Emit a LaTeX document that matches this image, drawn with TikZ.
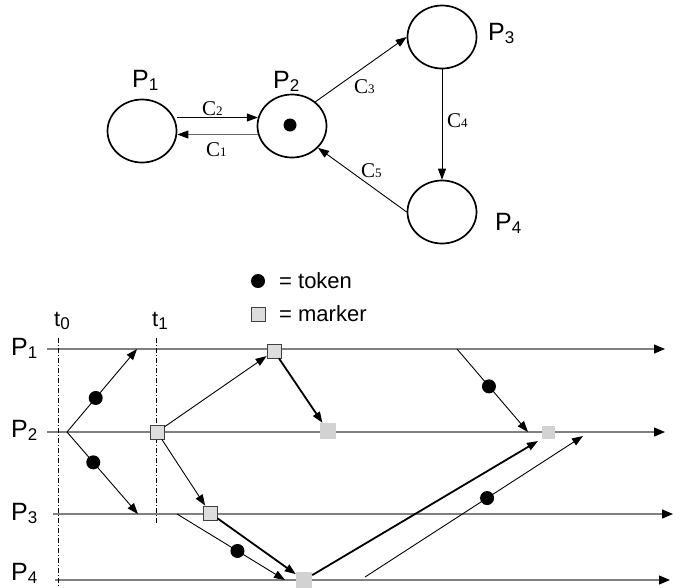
\documentclass[tikz,border=0pt]{standalone}
\usepackage{fontspec}
\setmainfont{Liberation Serif}
\setsansfont{Liberation Sans}
\usetikzlibrary{arrows.meta}
\usetikzlibrary{shapes.geometric}
\definecolor{zeitlinie}{RGB}{128,128,128}
\definecolor{markfill}{RGB}{221,221,221}
\definecolor{markgrey}{RGB}{210,210,210}
\newcommand{\psub}[1]{\raisebox{-3pt}{\fontsize{17}{17}\selectfont #1}}
\newcommand{\csub}[1]{{\fontsize{13}{13}\selectfont #1}}

\begin{document}
\begin{tikzpicture}[x=1pt, y=-1pt,
    >={Triangle[length=11pt,width=8pt]},
    place/.style={ellipse, draw, line width=1.7pt, minimum width=69pt, minimum height=63pt, inner sep=0pt},
    plab/.style={font=\sffamily\fontsize{25}{25}\selectfont, anchor=base west, inner sep=0pt},
    tlab/.style={font=\sffamily\fontsize{22}{22}\selectfont, anchor=base west, inner sep=0pt},
    clab/.style={font=\rmfamily\fontsize{21}{21}\selectfont, anchor=base west, inner sep=0pt},
    legtext/.style={font=\sffamily\fontsize{22}{22}\selectfont, anchor=west, inner sep=0pt},
    token/.style={circle, fill=black, minimum size=14pt, inner sep=0pt},
    marker/.style={rectangle, draw=black!75, fill=markfill, line width=.8pt, minimum size=14pt, inner sep=0pt},
    gmarker/.style={rectangle, fill=markgrey, minimum size=16pt, inner sep=0pt},
    zeit/.style={draw=zeitlinie, line width=1.2pt, -{Triangle[length=11pt,width=9pt,color=black]}},
    pfeil/.style={->, line width=.9pt},
    dpfeil/.style={->, line width=1.8pt},
    tlinie/.style={line width=1pt, dash pattern=on 5pt off 2pt on 1pt off 2pt}]

    \useasboundingbox (0,0) rectangle (695,587);

    % places of the net
    \node[place] (p1) at (142,131) {};
    \node[place] (p2) at (292,126) {};
    \node[place] (p3) at (442,37) {};
    \node[place] (p4) at (442,212) {};
    \node[token, minimum size=13pt] (tok) at (290,125) {};

    \node[plab] (n1) at (132,87) {P\psub{1}};
    \node[plab] (n2) at (273,88) {P\psub{2}};
    \node[plab] (n3) at (488,40) {P\psub{3}};
    \node[plab] (n4) at (495,230) {P\psub{4}};

    % channels
    \draw[pfeil] (p1.east |- p2.166) -- (p2.166);
    \draw[pfeil, draw=black!60, -{Triangle[length=11pt,width=8pt,color=black]}] (p2.194) -- (p1.east |- p2.194);
    \draw[pfeil] (p2.46) -- (p3.west);
    \draw[pfeil] (p3) -- (p4);
    \draw[pfeil] (p4.west) -- (p2.-40);

    \node[clab] (c2) at (202,115) {C\csub{2}};
    \node[clab] (c1) at (206,156) {C\csub{1}};
    \node[clab] (c3) at (354,93) {C\csub{3}};
    \node[clab] (c4) at (447,127) {C\csub{4}};
    \node[clab] (c5) at (361,177) {C\csub{5}};

    % legend
    \node[token] (lt) at (258,281) {};
    \node[legtext] (ltt) at (279,281) {= token};
    \node[marker] (lm) at (258,314) {};
    \node[legtext] (lmt) at (279,314) {= marker};

    % time lines
    \coordinate (s1) at (47,349);  \coordinate (e1) at (665,349);
    \coordinate (s2) at (47,432);  \coordinate (e2) at (665,432);
    \coordinate (s3) at (53,514);  \coordinate (e3) at (673,514);
    \coordinate (s4) at (55,580);  \coordinate (e4) at (670,580);
    \draw[zeit] (s1) -- (e1);
    \draw[zeit] (s2) -- (e2);
    \draw[zeit] (s3) -- (e3);
    \draw[zeit] (s4) -- (e4);

    \node[plab] (q1) at (11,355) {P\psub{1}};
    \node[plab] (q2) at (11,437) {P\psub{2}};
    \node[plab] (q3) at (11,520) {P\psub{3}};
    \node[plab] (q4) at (11,580) {P\psub{4}};

    % cuts
    \coordinate (t0a) at (58,338);  \coordinate (t0b) at (58,587);
    \coordinate (t1a) at (156,338); \coordinate (t1b) at (156,523);
    \draw[tlinie] (t0a) -- (t0b);
    \draw[tlinie] (t1a) -- (t1b);
    \node[tlab] (lt0) at (54,326) {t\psub{0}};
    \node[tlab] (lt1) at (152,326) {t\psub{1}};

    % markers
    \node[marker] (m1) at (274,351) {};
    \node[marker] (m2) at (157,432) {};
    \node[marker] (m3) at (210,513) {};
    \node[gmarker] (g2) at (328,431) {};
    \node[gmarker] (g4) at (304,580) {};
    \node[gmarker, minimum size=13pt] (g2b) at (548,432) {};

    % messages
    \coordinate (a0) at (67,432);
    \coordinate (a1) at (137,349);
    \coordinate (a3) at (138,514);
    \coordinate (b3) at (177,514);
    \coordinate (b4) at (285,580);
    \coordinate (d2) at (538,441);
    \coordinate (f1) at (457,349);
    \coordinate (f2) at (528,432);
    \coordinate (h4) at (365,577);
    \coordinate (h2) at (583,436);

    \draw[pfeil] (a0) -- node[token, pos=.41]{} (a1);
    \draw[pfeil] (a0) -- node[token, pos=.37]{} (a3);
    \draw[pfeil] (m2) -- (m1);
    \draw[pfeil] (m2) -- (m3);
    \draw[dpfeil] (m1) -- (g2);
    \draw[dpfeil] (m3) -- (g4);
    \draw[pfeil] (b3) -- node[token, pos=.56]{} (b4);
    \draw[dpfeil] (g4) -- (d2);
    \draw[pfeil] (f1) -- node[token, pos=.45]{} (f2);
    \draw[pfeil] (h4) -- node[token, pos=.56]{} (h2);

\end{tikzpicture}
\end{document}
